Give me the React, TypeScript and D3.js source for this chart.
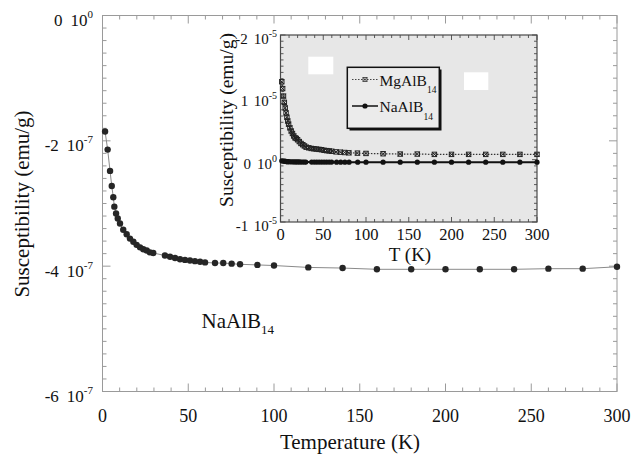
import * as d3 from "d3";

// NaAlB14, main plot (units of 1e-7 emu/g)
const naTemps = [1.5, 3, 4.4, 5.4, 6.3, 6.9, 7.9, 8.9, 10.2, 12.1, 14.1, 16, 18, 19.9, 21.9, 23.8, 25.8, 27.7, 29.6, 36.4, 39.4, 42.3, 45.2, 48.1, 51, 53.9, 56.9, 59.8, 65.6, 70.4, 75.3, 80.2, 90.3, 100, 120, 140, 160, 180, 200, 220, 240, 260, 280, 300];
const naSusc = [-1.85, -2.14, -2.48, -2.72, -2.9, -3.05, -3.16, -3.24, -3.32, -3.42, -3.49, -3.56, -3.61, -3.66, -3.7, -3.73, -3.75, -3.78, -3.79, -3.83, -3.85, -3.87, -3.89, -3.9, -3.91, -3.92, -3.93, -3.94, -3.95, -3.95, -3.96, -3.97, -3.98, -3.99, -4.02, -4.03, -4.05, -4.05, -4.05, -4.05, -4.05, -4.04, -4.04, -4.01];

// MgAlB14, inset (units of 1e-5 emu/g)
const mgTemps = [1.5, 2.5, 3.5, 4.5, 5.5, 6.5, 7.5, 8.5, 9.5, 11, 12.5, 14, 15.5, 17, 18.5, 20, 22, 24, 26, 28, 30, 33, 36, 39, 42, 45, 48, 51, 54, 57, 60, 65, 70, 75, 80, 90, 100, 120, 140, 160, 180, 200, 220, 240, 260, 280, 300];
const mgSusc = [1.25, 1.14, 1.02, 0.92, 0.83, 0.75, 0.68, 0.62, 0.57, 0.51, 0.46, 0.42, 0.38, 0.35, 0.34, 0.32, 0.29, 0.26, 0.24, 0.22, 0.2, 0.19, 0.18, 0.175, 0.17, 0.165, 0.16, 0.15, 0.145, 0.14, 0.135, 0.125, 0.12, 0.115, 0.11, 0.105, 0.1, 0.095, 0.09, 0.09, 0.085, 0.085, 0.085, 0.085, 0.085, 0.085, 0.085];

// tick labels
const mainYTicks = [0, -2, -4, -6];
const mainYMant = ["0", "-2", "-4", "-6"];
const mainYExp = ["0", "-7", "-7", "-7"];
const insetYTicks = [2, 1, 0, -1];
const insetYMant = ["-2", "1", "0", "-1"];
const insetYExp = ["-5", "-5", "0", "-5"];

const serif = "Liberation Serif, Times New Roman, DejaVu Serif, serif";

export default function App() {
  const W = 632;
  const H = 454;

  // main plot
  const x = d3.scaleLinear().domain([0, 300]).range([102.5, 617]);
  const y = d3.scaleLinear().domain([-6, 0]).range([391.5, 15.5]);

  // inset
  const xi = d3.scaleLinear().domain([0, 300]).range([280.5, 537]);
  const yi = d3.scaleLinear().domain([-1, 2]).range([222, 35]);

  const naPts = naTemps.map((t, i) => ({ t, v: naSusc[i] }));
  const naInset = naTemps.map((t, i) => ({ t, v: naSusc[i] / 100 }));
  const mgPts = mgTemps.map((t, i) => ({ t, v: mgSusc[i] }));

  const mainLine = d3.line<{ t: number; v: number }>().x((d) => x(d.t)).y((d) => y(d.v));
  const insetLine = d3.line<{ t: number; v: number }>().x((d) => xi(d.t)).y((d) => yi(d.v));

  const xMinor = d3.range(0, 31).map((i) => i * 10);
  const yMinor = d3.range(0, 31).map((i) => -6 + i * 0.2);
  const xiMinor = d3.range(0, 31).map((i) => i * 10);
  const yiMinor = d3.range(0, 31).map((i) => -1 + i * 0.1);

  const [x0, x1] = x.range();
  const [yb, yt] = y.range();
  const [ix0, ix1] = xi.range();
  const [iyb, iyt] = yi.range();

  const axisCol = "#9a9a9a";
  const insetCol = "#4a4a4a";

  return (
    <svg width={W} height={H} style={{ position: "absolute", left: 0, top: 0, background: "#fff", fontFamily: serif }}>
      {/* main frame */}
      <rect x={x0} y={yt} width={x1 - x0} height={yb - yt} fill="#fff" stroke={axisCol} strokeWidth={1} />

      {/* main x ticks (bottom + top, inward) */}
      {xMinor.map((t, i) => {
        const len = i % 5 === 0 ? 8 : 4;
        return (
          <g key={"mx" + i} stroke={axisCol} strokeWidth={1}>
            <line x1={x(t)} x2={x(t)} y1={yb} y2={yb - len} />
            <line x1={x(t)} x2={x(t)} y1={yt} y2={yt + len} />
          </g>
        );
      })}
      {/* main y ticks (left + right, inward) */}
      {yMinor.map((v, i) => {
        const len = i % 10 === 0 ? 8 : 4;
        return (
          <g key={"my" + i} stroke={axisCol} strokeWidth={1}>
            <line x1={x0} x2={x0 + len} y1={y(v)} y2={y(v)} />
            <line x1={x1} x2={x1 - len} y1={y(v)} y2={y(v)} />
          </g>
        );
      })}

      {/* main x tick labels */}
      {x.ticks(6).map((t) => (
        <text key={"xl" + t} x={x(t)} y={422} textAnchor="middle" fontSize={18} fill="#111">
          {t}
        </text>
      ))}
      {/* main y tick labels */}
      {mainYTicks.map((v, i) => (
        <text key={"yl" + v} x={93} y={y(v) + 10.5} textAnchor="end" fontSize={17} fill="#111">
          <tspan>{mainYMant[i]}</tspan>
          <tspan dx={8}>10</tspan>
          <tspan dy={-8} fontSize={11}>{mainYExp[i]}</tspan>
        </text>
      ))}

      {/* main axis titles */}
      <text x={350} y={448.5} textAnchor="middle" fontSize={21} fill="#111">
        Temperature (K)
      </text>
      <text transform="translate(28.5,204) rotate(-90)" textAnchor="middle" fontSize={21} fill="#111">
        Susceptibility (emu/g)
      </text>

      {/* main data */}
      <path d={mainLine(naPts) ?? ""} fill="none" stroke="#8a8a8a" strokeWidth={1} />
      {naPts.map((d, i) => (
        <circle key={"np" + i} cx={x(d.t)} cy={y(d.v)} r={3.2} fill="#262626" />
      ))}

      <text x={201.5} y={328} fontSize={21} fill="#111">
        NaAlB<tspan dy={6} fontSize={13}>14</tspan>
      </text>

      {/* inset */}
      <rect x={ix0} y={iyt} width={ix1 - ix0} height={iyb - iyt} fill="#e7e7e7" stroke={insetCol} strokeWidth={1.2} />
      {xiMinor.map((t, i) => {
        const len = i % 5 === 0 ? 5 : 3;
        return (
          <g key={"ix" + i} stroke={insetCol} strokeWidth={0.9}>
            <line x1={xi(t)} x2={xi(t)} y1={iyb} y2={iyb - len} />
            <line x1={xi(t)} x2={xi(t)} y1={iyt} y2={iyt + len} />
          </g>
        );
      })}
      {yiMinor.map((v, i) => {
        const len = i % 10 === 0 ? 5 : 3;
        return (
          <g key={"iy" + i} stroke={insetCol} strokeWidth={0.9}>
            <line x1={ix0} x2={ix0 + len} y1={yi(v)} y2={yi(v)} />
            <line x1={ix1} x2={ix1 - len} y1={yi(v)} y2={yi(v)} />
          </g>
        );
      })}

      {/* white patches */}
      <rect x={308.3} y={56.7} width={25} height={17.6} fill="#fff" />
      <rect x={464} y={72.3} width={24.3} height={17.7} fill="#fff" />

      {/* inset tick labels */}
      {xi.ticks(6).map((t) => (
        <text key={"ixl" + t} x={xi(t)} y={240} textAnchor="middle" fontSize={16.5} fill="#111">
          {t}
        </text>
      ))}
      {insetYTicks.map((v, i) => (
        <text key={"iyl" + v} x={277} y={yi(v) + 9} textAnchor="end" fontSize={15} fill="#111">
          <tspan>{insetYMant[i]}</tspan>
          <tspan dx={6}>10</tspan>
          <tspan dy={-7} fontSize={10}>{insetYExp[i]}</tspan>
        </text>
      ))}
      <text x={410} y={261} textAnchor="middle" fontSize={19} fill="#111">
        T (K)
      </text>
      <text transform="translate(233,120) rotate(-90)" textAnchor="middle" fontSize={19.5} fill="#111">
        Susceptibility (emu/g)
      </text>

      {/* inset data */}
      <path d={insetLine(mgPts) ?? ""} fill="none" stroke="#333" strokeWidth={1.2} strokeDasharray="1.5,1.5" />
      {mgPts.map((d, i) => {
        const cx = xi(d.t);
        const cy = yi(d.v);
        return (
          <g key={"mg" + i} stroke="#222" strokeWidth={1} fill="none">
            <rect x={cx - 2.2} y={cy - 2.2} width={4.4} height={4.4} />
            <line x1={cx - 2.2} y1={cy - 2.2} x2={cx + 2.2} y2={cy + 2.2} />
            <line x1={cx - 2.2} y1={cy + 2.2} x2={cx + 2.2} y2={cy - 2.2} />
          </g>
        );
      })}
      <path d={insetLine(naInset) ?? ""} fill="none" stroke="#111" strokeWidth={2} />
      {naInset.map((d, i) => (
        <circle key={"ni" + i} cx={xi(d.t)} cy={yi(d.v)} r={2.6} fill="#111" />
      ))}

      {/* legend */}
      <rect x={349.5} y={69.5} width={92} height={61} fill="#111" />
      <rect x={347.3} y={67.3} width={92} height={61} fill="#ebebeb" stroke="#111" strokeWidth={1.5} />
      <line x1={352} x2={378} y1={79.5} y2={79.5} stroke="#444" strokeWidth={1} strokeDasharray="1.5,1.5" />
      <g stroke="#333" strokeWidth={0.8} fill="none">
        <rect x={363} y={77.5} width={4} height={4} />
        <line x1={363} y1={77.5} x2={367} y2={81.5} />
        <line x1={363} y1={81.5} x2={367} y2={77.5} />
      </g>
      <text x={379.5} y={86} fontSize={15.5} fill="#111">
        MgAlB<tspan dy={7} fontSize={9.5}>14</tspan>
      </text>
      <line x1={352} x2={378} y1={106} y2={106} stroke="#111" strokeWidth={1.5} />
      <circle cx={365} cy={106} r={2.6} fill="#111" />
      <text x={379.5} y={112} fontSize={15.5} fill="#111">
        NaAlB<tspan dy={8} fontSize={9.5}>14</tspan>
      </text>
    </svg>
  );
}
